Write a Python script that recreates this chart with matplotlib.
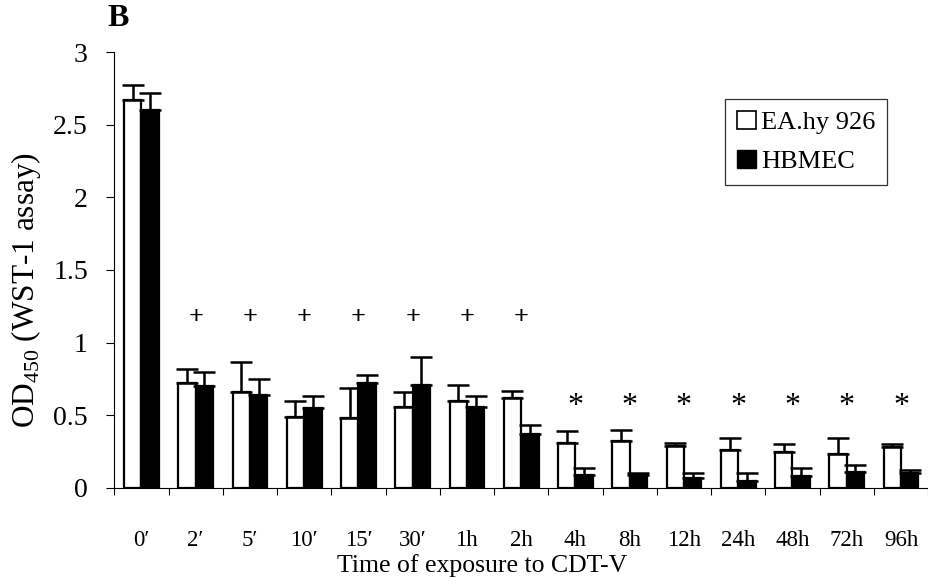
import numpy as np
import matplotlib.pyplot as plt
from matplotlib.patches import Patch

plt.rcParams["font.family"] = ["Liberation Serif", "DejaVu Serif"]
plt.rcParams["mathtext.fontset"] = "custom"
plt.rcParams["mathtext.rm"] = "Liberation Serif"

times = ["0\u2032", "2\u2032", "5\u2032", "10\u2032", "15\u2032", "30\u2032", "1h", "2h",
         "4h", "8h", "12h", "24h", "48h", "72h", "96h"]
ea_mean = [2.67, 0.72, 0.66, 0.49, 0.48, 0.56, 0.60, 0.62, 0.31, 0.32, 0.29, 0.26, 0.25, 0.23, 0.28]
ea_top = [2.77, 0.82, 0.87, 0.60, 0.69, 0.66, 0.71, 0.67, 0.39, 0.40, 0.31, 0.34, 0.30, 0.34, 0.30]
hb_mean = [2.60, 0.70, 0.64, 0.55, 0.72, 0.71, 0.56, 0.37, 0.09, 0.09, 0.07, 0.05, 0.08, 0.11, 0.10]
hb_top = [2.72, 0.80, 0.75, 0.63, 0.78, 0.90, 0.63, 0.43, 0.14, 0.10, 0.10, 0.10, 0.14, 0.16, 0.12]
plus_groups = ["2\u2032", "5\u2032", "10\u2032", "15\u2032", "30\u2032", "1h", "2h"]
star_groups = ["4h", "8h", "12h", "24h", "48h", "72h", "96h"]

x = np.arange(len(times))
w = 0.32
ea_err = np.array(ea_top) - np.array(ea_mean)
hb_err = np.array(hb_top) - np.array(hb_mean)

fig = plt.figure(figsize=(9.29, 5.85), dpi=100)
ax = fig.add_axes([0.123, 0.166, 0.876, 0.745])

err_kw = dict(ecolor="black", elinewidth=1.8, capsize=8, capthick=1.8)
ax.bar(x - w / 2, ea_mean, w, color="white", edgecolor="black", linewidth=1.6,
       yerr=[np.zeros_like(ea_err), ea_err], error_kw=err_kw, zorder=2)
ax.bar(x + w / 2, hb_mean, w, color="black", edgecolor="black", linewidth=1.6,
       yerr=[np.zeros_like(hb_err), hb_err], error_kw=err_kw, zorder=2)

for t in plus_groups:
    ax.text(times.index(t), 1.17, "+", ha="center", va="center", fontsize=19,
            fontweight="bold")
for t in star_groups:
    ax.text(times.index(t), 0.56, "*", ha="center", va="center", fontsize=23)

ax.set_xlim(-0.5, len(times) - 0.5)
ax.set_ylim(0, 3)
ax.set_yticks([0, 0.5, 1, 1.5, 2, 2.5, 3])
ax.set_yticklabels(["0", "0.5", "1", "1.5", "2", "2.5", "3"])
ax.set_xticks(x)
ax.set_xticklabels(times)
ax.set_xticks(np.arange(-0.5, len(times)), minor=True)
ax.tick_params(axis="x", which="major", length=0, pad=30, labelsize=16.5)
ax.tick_params(axis="x", which="minor", length=5, direction="out", width=0.8)
ax.tick_params(axis="y", length=6, direction="out", width=0.8, pad=13, labelsize=20)

for s in ["top", "right"]:
    ax.spines[s].set_visible(False)
for s in ["left", "bottom"]:
    ax.spines[s].set_linewidth(0.8)

ax.set_xlabel("Time of exposure to CDT-V", fontsize=18.5)
ax.xaxis.set_label_coords(0.452, -0.152)
ax.set_ylabel("OD$_{450}$ (WST-1 assay)", fontsize=22.5)
ax.yaxis.set_label_coords(-0.088, 0.454)

handles = [Patch(facecolor="white", edgecolor="black", linewidth=1.2),
           Patch(facecolor="black", edgecolor="black")]
leg = ax.legend(handles, ["EA.hy 926", "HBMEC"], loc="upper left",
                bbox_to_anchor=(0.741, 0.911), fontsize=19, frameon=True,
                fancybox=False, handlelength=0.7, handleheight=0.7,
                handletextpad=0.2, labelspacing=0.6, borderpad=0.45,
                borderaxespad=0.3)
leg.get_frame().set_edgecolor("black")
leg.get_frame().set_linewidth(0.9)

fig.text(0.116, 0.993, "B", fontsize=23, fontweight="bold", va="top", ha="left")

fig.savefig("out.png", dpi=100)
